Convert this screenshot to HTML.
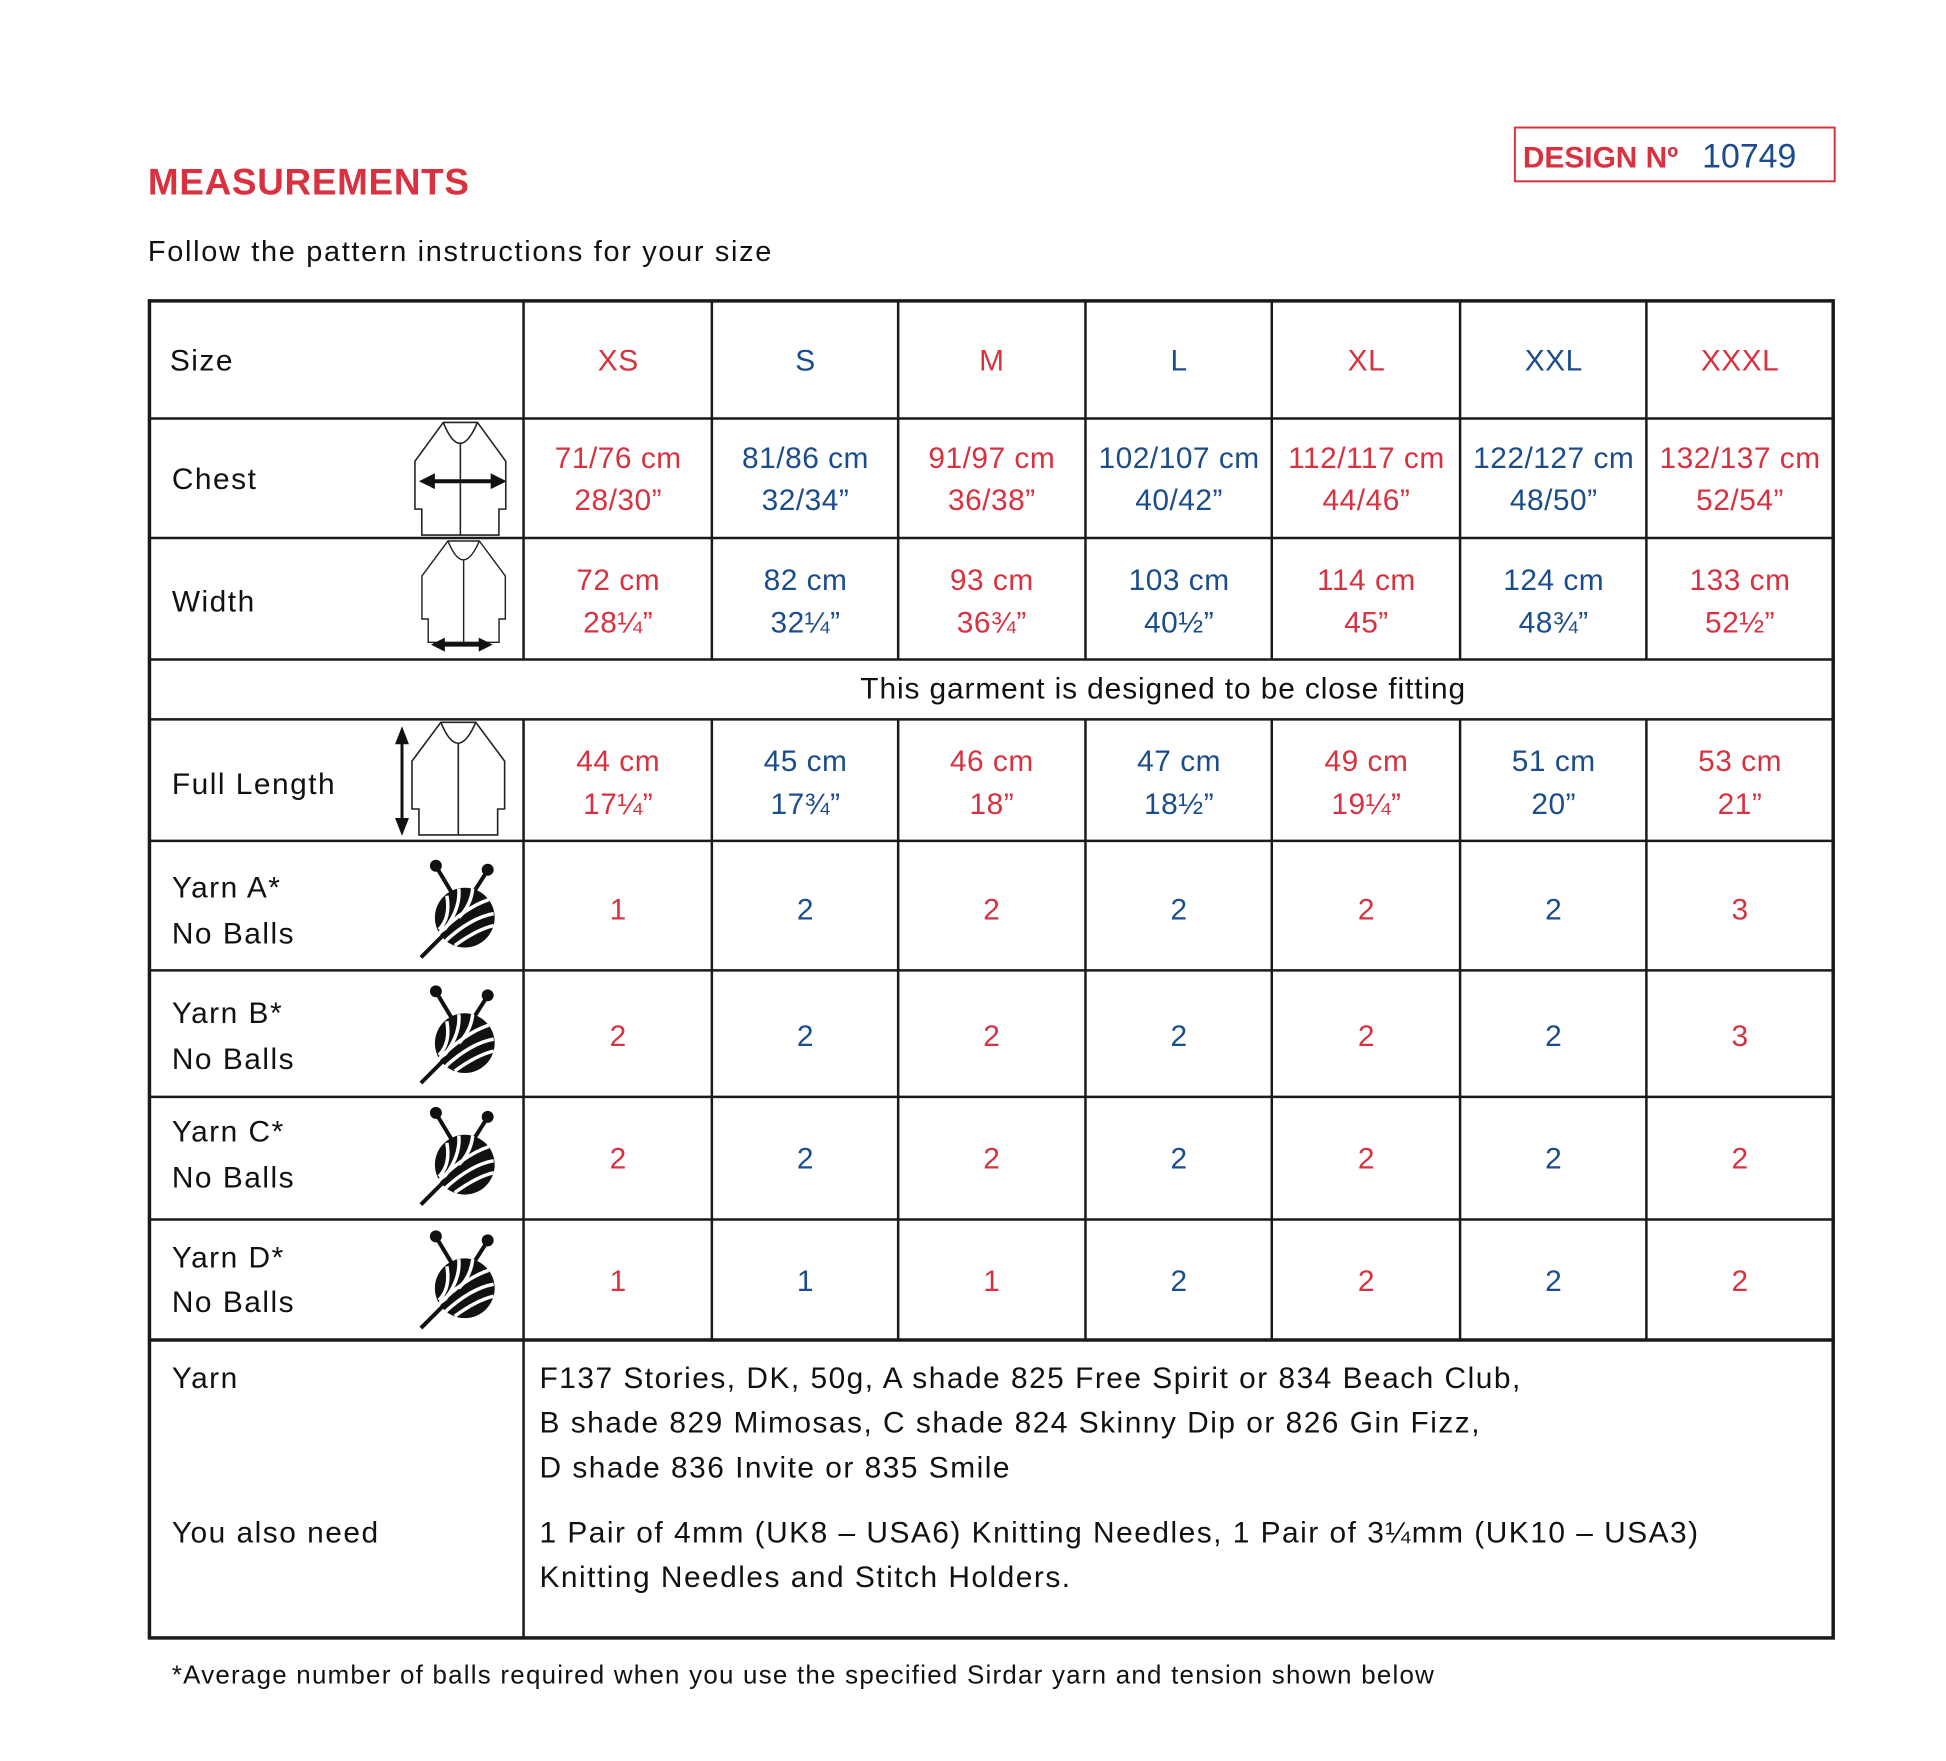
<!DOCTYPE html>
<html><head><meta charset="utf-8"><style>
html,body{margin:0;padding:0;background:#fff;}
svg{display:block;}
text{font-family:"Liberation Sans",sans-serif;}
.r{fill:#d8313f;}
.b{fill:#1b4d8c;}
.k{fill:#111;}
</style></head><body>
<svg width="1946" height="1761" viewBox="0 0 1946 1761" xmlns="http://www.w3.org/2000/svg">
<defs>
<g id="garm" fill="none" stroke="#222" stroke-width="1.6">
<path d="M29,0 L64,0 L93,39 L93,87 L86,87 L86,113 L7,113 L7,87 L0,87 L0,39 Z"/>
<path d="M29,0 Q46,42 64,0"/>
<line x1="46.5" y1="21" x2="46.5" y2="113"/>
</g>
<g id="ball">
<line x1="-28" y1="-50" x2="-10" y2="-20" stroke="#111" stroke-width="4"/>
<line x1="22" y1="-46" x2="8" y2="-24" stroke="#111" stroke-width="4"/>
<circle cx="-29" cy="-52" r="6" fill="#111"/>
<circle cx="23" cy="-48" r="6" fill="#111"/>
<circle cx="0" cy="0" r="30" fill="#111"/>
<g fill="none" stroke="#fff" stroke-width="3.5">
<path d="M-26,16 Q0,-10 24,-18"/>
<path d="M-20,24 Q6,0 29,-4"/>
<path d="M-10,28 Q12,12 29,8"/>
<path d="M-18,-22 Q-14,0 -26,12"/>
<path d="M-6,-29 Q-4,-8 -22,14"/>
<path d="M8,-29 Q6,-12 -6,0"/>
</g>
<line x1="-18" y1="14" x2="-44" y2="40" stroke="#111" stroke-width="4"/>
</g>
</defs>
<g transform="translate(0.5,1) scale(0.9963)">
<text x="148" y="194" font-size="37" font-weight="bold" class="r" letter-spacing="0.7">MEASUREMENTS</text>
<text x="148" y="261" font-size="29" class="k" letter-spacing="1.7">Follow the pattern instructions for your size</text>

<rect x="1520" y="127" width="321" height="54" fill="none" stroke="#d8313f" stroke-width="2"/>
<text x="1528" y="167" font-size="30" font-weight="bold" class="r">DESIGN Nº</text>
<text x="1708" y="167" font-size="34" class="b">10749</text>

<g stroke="#1a1a1a" stroke-width="2.5">
<line x1="525" y1="301" x2="525" y2="661"/><line x1="525" y1="721" x2="525" y2="1644"/>
<line x1="714" y1="301" x2="714" y2="661"/><line x1="714" y1="721" x2="714" y2="1344"/>
<line x1="901" y1="301" x2="901" y2="661"/><line x1="901" y1="721" x2="901" y2="1344"/>
<line x1="1089" y1="301" x2="1089" y2="661"/><line x1="1089" y1="721" x2="1089" y2="1344"/>
<line x1="1276" y1="301" x2="1276" y2="661"/><line x1="1276" y1="721" x2="1276" y2="1344"/>
<line x1="1465" y1="301" x2="1465" y2="661"/><line x1="1465" y1="721" x2="1465" y2="1344"/>
<line x1="1652" y1="301" x2="1652" y2="661"/><line x1="1652" y1="721" x2="1652" y2="1344"/>
<line x1="148" y1="419" x2="1841" y2="419"/>
<line x1="148" y1="539" x2="1841" y2="539"/>
<line x1="148" y1="661" x2="1841" y2="661"/>
<line x1="148" y1="721" x2="1841" y2="721"/>
<line x1="148" y1="843" x2="1841" y2="843"/>
<line x1="148" y1="973" x2="1841" y2="973"/>
<line x1="148" y1="1100" x2="1841" y2="1100"/>
<line x1="148" y1="1223" x2="1841" y2="1223"/>
</g>
<g stroke="#1a1a1a" stroke-width="3.5" fill="none">
<rect x="149.5" y="301" width="1690" height="1342"/>
<line x1="148" y1="1344" x2="1841" y2="1344"/>
</g>

<use href="#garm" transform="translate(416,423) scale(0.98,1.0)"/>
<g stroke="#111" stroke-width="4"><line x1="432" y1="482" x2="496" y2="482"/></g>
<path d="M420,482 L436,474 L436,490 Z M508,482 L492,474 L492,490 Z" fill="#111"/>
<use href="#garm" transform="translate(423,542) scale(0.9,0.9)"/>
<line x1="442" y1="646" x2="484" y2="646" stroke="#111" stroke-width="4"/>
<path d="M432,646 L446,639 L446,653 Z M494,646 L480,639 L480,653 Z" fill="#111"/>
<use href="#garm" transform="translate(413,724)"/>
<line x1="403" y1="740" x2="403" y2="826" stroke="#111" stroke-width="3"/>
<path d="M403,728 L396,746 L410,746 Z M403,838 L396,820 L410,820 Z" fill="#111"/>
<use href="#ball" transform="translate(466,920)"/>
<use href="#ball" transform="translate(466,1046)"/>
<use href="#ball" transform="translate(466,1168)"/>
<use href="#ball" transform="translate(466,1292)"/>

<g font-size="30" class="k" letter-spacing="1.5">
<text x="170" y="371">Size</text>
<text x="172" y="490">Chest</text>
<text x="172" y="613">Width</text>
<text x="172" y="796">Full Length</text>
<text x="172" y="900">Yarn A*</text><text x="172" y="946">No Balls</text>
<text x="172" y="1026">Yarn B*</text><text x="172" y="1072">No Balls</text>
<text x="172" y="1145">Yarn C*</text><text x="172" y="1191">No Balls</text>
<text x="172" y="1271">Yarn D*</text><text x="172" y="1316">No Balls</text>
<text x="1167" y="700" text-anchor="middle" letter-spacing="0.9">This garment is designed to be close fitting</text>
<text x="172" y="1392">Yarn</text>
<text x="172" y="1547">You also need</text>
<text x="541" y="1392">F137 Stories, DK, 50g, A shade 825 Free Spirit or 834 Beach Club,</text>
<text x="541" y="1437">B shade 829 Mimosas, C shade 824 Skinny Dip or 826 Gin Fizz,</text>
<text x="541" y="1482">D shade 836 Invite or 835 Smile</text>
<text x="541" y="1547">1 Pair of 4mm (UK8 – USA6) Knitting Needles, 1 Pair of 3¼mm (UK10 – USA3)</text>
<text x="541" y="1592">Knitting Needles and Stitch Holders.</text>
</g>
<text x="172" y="1689" font-size="26" class="k" letter-spacing="1.25">*Average number of balls required when you use the specified Sirdar yarn and tension shown below</text>

<g font-size="30" text-anchor="middle" letter-spacing="0.5">
<g class="r">
<text x="620" y="371">XS</text><text x="620" y="469">71/76 cm</text><text x="620" y="511">28/30”</text>
<text x="620" y="591">72 cm</text><text x="620" y="634">28¼”</text>
<text x="620" y="773">44 cm</text><text x="620" y="816">17¼”</text>
<text x="620" y="922">1</text><text x="620" y="1049">2</text><text x="620" y="1172">2</text><text x="620" y="1295">1</text>
<text x="995" y="371">M</text><text x="995" y="469">91/97 cm</text><text x="995" y="511">36/38”</text>
<text x="995" y="591">93 cm</text><text x="995" y="634">36¾”</text>
<text x="995" y="773">46 cm</text><text x="995" y="816">18”</text>
<text x="995" y="922">2</text><text x="995" y="1049">2</text><text x="995" y="1172">2</text><text x="995" y="1295">1</text>
<text x="1371" y="371">XL</text><text x="1371" y="469">112/117 cm</text><text x="1371" y="511">44/46”</text>
<text x="1371" y="591">114 cm</text><text x="1371" y="634">45”</text>
<text x="1371" y="773">49 cm</text><text x="1371" y="816">19¼”</text>
<text x="1371" y="922">2</text><text x="1371" y="1049">2</text><text x="1371" y="1172">2</text><text x="1371" y="1295">2</text>
<text x="1746" y="371">XXXL</text><text x="1746" y="469">132/137 cm</text><text x="1746" y="511">52/54”</text>
<text x="1746" y="591">133 cm</text><text x="1746" y="634">52½”</text>
<text x="1746" y="773">53 cm</text><text x="1746" y="816">21”</text>
<text x="1746" y="922">3</text><text x="1746" y="1049">3</text><text x="1746" y="1172">2</text><text x="1746" y="1295">2</text>
</g>
<g class="b">
<text x="808" y="371">S</text><text x="808" y="469">81/86 cm</text><text x="808" y="511">32/34”</text>
<text x="808" y="591">82 cm</text><text x="808" y="634">32¼”</text>
<text x="808" y="773">45 cm</text><text x="808" y="816">17¾”</text>
<text x="808" y="922">2</text><text x="808" y="1049">2</text><text x="808" y="1172">2</text><text x="808" y="1295">1</text>
<text x="1183" y="371">L</text><text x="1183" y="469">102/107 cm</text><text x="1183" y="511">40/42”</text>
<text x="1183" y="591">103 cm</text><text x="1183" y="634">40½”</text>
<text x="1183" y="773">47 cm</text><text x="1183" y="816">18½”</text>
<text x="1183" y="922">2</text><text x="1183" y="1049">2</text><text x="1183" y="1172">2</text><text x="1183" y="1295">2</text>
<text x="1559" y="371">XXL</text><text x="1559" y="469">122/127 cm</text><text x="1559" y="511">48/50”</text>
<text x="1559" y="591">124 cm</text><text x="1559" y="634">48¾”</text>
<text x="1559" y="773">51 cm</text><text x="1559" y="816">20”</text>
<text x="1559" y="922">2</text><text x="1559" y="1049">2</text><text x="1559" y="1172">2</text><text x="1559" y="1295">2</text>
</g>
</g>
</g>
</svg>
</body></html>
